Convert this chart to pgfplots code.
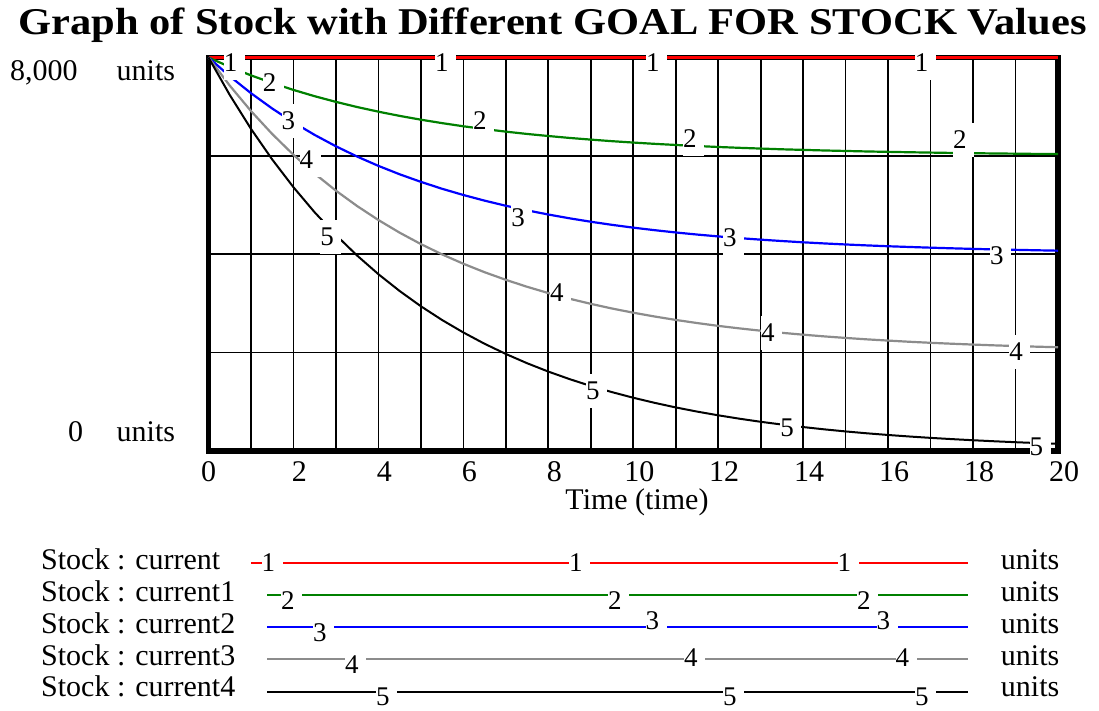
\documentclass[border=0pt]{standalone}
\usepackage{pgfplots}
\pgfplotsset{compat=1.18}
\usepackage{pgfplotstable}
\usepackage{fontspec}
\setmainfont{Liberation Serif}
\definecolor{vgreen}{RGB}{0,128,0}
\definecolor{vblue}{RGB}{0,0,255}
\definecolor{vred}{RGB}{255,0,0}
\definecolor{vgray}{RGB}{140,140,140}
\newcommand{\fs}{\fontsize{30}{30}\selectfont}
\newcommand{\fl}{\fontsize{27}{27}\selectfont}
\tikzset{lbl/.style={fill=white,inner sep=0pt,minimum height=34pt,font=\fl,anchor=center},
         llbl/.style={fill=white,inner sep=0pt,minimum height=27pt,font=\fl,anchor=center}}
\newcommand{\lb}[3]{\node[lbl] at (axis cs:#1,#2) {\makebox[21pt][l]{#3}};}
\newcommand{\llb}[3]{\node[llbl] at (#1,#2) {\makebox[21pt][l]{#3}};}

\pgfplotstableread{
t s1 s2 s3 s4 s5
0 8000 8000 8000 8000 8000
0.5 8000 7810 7619 7429 7239
1 8000 7637 7275 6912 6550
1.5 8000 7482 6963 6445 5927
2 8000 7341 6681 6022 5363
2.5 8000 7213 6426 5639 4852
3 8000 7098 6195 5293 4391
3.5 8000 6993 5986 4980 3973
4 8000 6899 5797 4696 3595
4.5 8000 6813 5626 4439 3253
5 8000 6736 5472 4207 2943
5.5 8000 6666 5331 3997 2663
6 8000 6602 5205 3807 2410
6.5 8000 6545 5090 3635 2180
7 8000 6493 4986 3480 1973
7.5 8000 6446 4893 3339 1785
8 8000 6404 4808 3211 1615
8.5 8000 6365 4731 3096 1462
9 8000 6331 4661 2992 1322
9.5 8000 6299 4598 2897 1197
10 8000 6271 4541 2812 1083
10.5 8000 6245 4490 2735 980
11 8000 6222 4443 2665 886
11.5 8000 6201 4401 2602 802
12 8000 6181 4363 2544 726
12.5 8000 6164 4328 2493 657
13 8000 6149 4297 2446 594
13.5 8000 6134 4269 2403 538
14 8000 6122 4243 2365 487
14.5 8000 6110 4220 2330 440
15 8000 6100 4199 2299 398
15.5 8000 6090 4180 2270 360
16 8000 6082 4163 2245 326
16.5 8000 6074 4148 2221 295
17 8000 6067 4134 2200 267
17.5 8000 6060 4121 2181 242
18 8000 6055 4109 2164 219
18.5 8000 6049 4099 2148 198
19 8000 6045 4090 2134 179
19.5 8000 6040 4081 2121 162
20 8000 6037 4073 2110 147
}\stock

\begin{document}
\begin{tikzpicture}
\begin{scope}[x=1pt,y=-1pt]
\path[use as bounding box] (0,0) rectangle (1099,706);
\node[anchor=base,inner sep=0pt] at (552.5,34) {\scalebox{1.18}[1.05]{\fontsize{36}{36}\selectfont\bfseries Graph of Stock with Different GOAL FOR STOCK Values}};
\node[anchor=base west,inner sep=0pt,font=\fs] at (10,80) {8,000};
\node[anchor=base west,inner sep=0pt,font=\fs] at (116.5,80) {units};
\node[anchor=base west,inner sep=0pt,font=\fs] at (68,441) {0};
\node[anchor=base west,inner sep=0pt,font=\fs] at (116.5,441) {units};
\node[anchor=base,inner sep=0pt,font=\fs] at (637,509) {Time (time)};
\end{scope}

\begin{axis}[
  at={(208.5pt,-451pt)}, anchor=south west,
  scale only axis, width=849.5pt, height=393.5pt,
  xmin=0, xmax=20, ymin=0, ymax=8000,
  xtick={0,1,...,20},
  xticklabels={{\makebox[0pt]{\hspace*{-12pt}0}},,2,,4,,6,,8,,10,,12,,14,,16,,18,,20},
  ytick={2000,4000,6000}, yticklabels={},
  major tick length=0pt,
  xmajorgrids, ymajorgrids,
  grid style={black, line width=1.7pt},
  axis line style={black, line width=5.5pt},
  clip=false,
  xticklabel style={font=\fs, anchor=base, yshift=-30.5pt, xshift=6pt, inner sep=0pt},
]
\addplot[vred, line width=3pt] table[x=t,y=s1] {\stock};
\addplot[vgreen, line width=2.2pt] table[x=t,y=s2] {\stock};
\addplot[vblue, line width=2.2pt] table[x=t,y=s3] {\stock};
\addplot[vgray, line width=2.2pt] table[x=t,y=s4] {\stock};
\addplot[black, line width=2pt] table[x=t,y=s5] {\stock};
\lb{0.61}{7888}{1}
\lb{5.58}{7888}{1}
\lb{10.55}{7888}{1}
\lb{16.88}{7888}{1}
\lb{1.53}{7492}{2}
\lb{6.48}{6709}{2}
\lb{11.42}{6343}{2}
\lb{17.78}{6323}{2}
\lb{1.97}{6709}{3}
\lb{7.38}{4747}{3}
\lb{12.36}{4330}{3}
\lb{18.65}{3964}{3}
\lb{2.39}{5916}{4}
\lb{8.29}{3212}{4}
\lb{13.26}{2399}{4}
\lb{19.10}{2013}{4}
\lb{2.88}{4351}{5}
\lb{9.14}{1220}{5}
\lb{13.71}{468}{5}
\lb{19.58}{81}{5}
\end{axis}

\begin{scope}[x=1pt,y=-1pt]
\foreach \yy/\lab in {569.5/current,601.5/current1,633.3/current2,665/current3,696.7/current4}{
  \node[anchor=base west,inner sep=0pt,font=\fs] at (41,\yy) {Stock : \lab};
  \node[anchor=base west,inner sep=0pt,font=\fs] at (1000.7,\yy) {units};
}
\draw[vred, line width=2pt] (251,563.3) -- (968,563.3);
\draw[vgreen, line width=2pt] (267,595) -- (968,595);
\draw[vblue, line width=2pt] (267,627.3) -- (968,627.3);
\draw[vgray, line width=2pt] (267,659) -- (968,659);
\draw[black, line width=2pt] (267,691.7) -- (968,691.7);
\llb{272}{562.5}{1}
\llb{579.5}{562.5}{1}
\llb{848}{562.5}{1}
\llb{291.5}{601}{2}
\llb{618.5}{601}{2}
\llb{867.5}{601}{2}
\llb{323.5}{632.5}{3}
\llb{656}{621}{3}
\llb{887}{621}{3}
\llb{355.5}{665}{4}
\llb{694.5}{657.5}{4}
\llb{906}{657.5}{4}
\llb{386.5}{697}{5}
\llb{733.5}{697}{5}
\llb{925.5}{697}{5}
\end{scope}
\end{tikzpicture}
\end{document}
